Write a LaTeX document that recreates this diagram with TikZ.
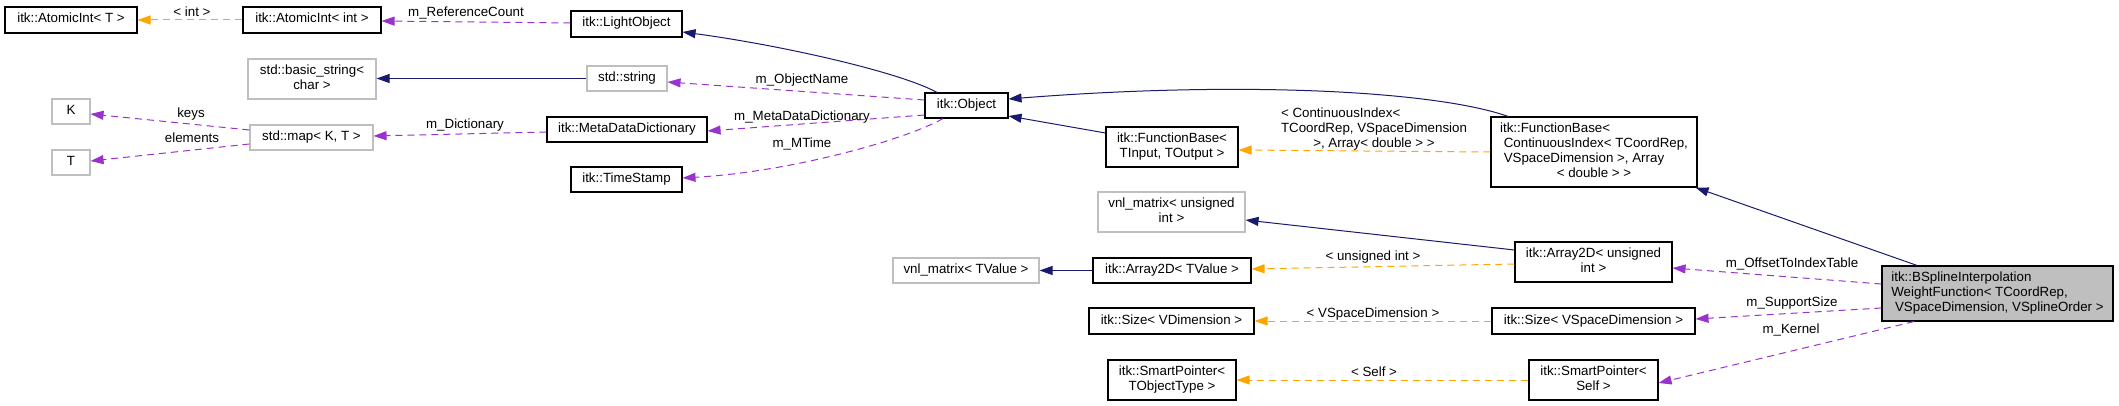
\documentclass[tikz,border=0pt]{standalone}
\usepackage{fontspec}
\setmainfont{Liberation Sans}
\usetikzlibrary{arrows.meta}
\definecolor{navy}{HTML}{191970}
\definecolor{orchid}{HTML}{9A32CD}
\definecolor{orng}{HTML}{FFA500}
\definecolor{greyline}{HTML}{BFBFBF}
\definecolor{greyfill}{HTML}{BFBFBF}
\newcommand{\twol}[2]{\begin{tabular}{@{}l@{}}#1\\\multicolumn{1}{@{}c@{}}{#2}\end{tabular}}
\begin{document}
\begin{tikzpicture}[x=1pt,y=-1pt,
  font=\fontsize{13.33}{15}\selectfont,
  box/.style={draw=black, line width=1.1pt, fill=white, inner sep=0pt, text=black},
  gbox/.style={box, draw=greyline},
  lbl/.style={anchor=base, inner sep=0pt, text=black},
  tip/.style={-{Triangle[length=13pt,width=9pt]}},
  inh/.style={tip, draw=navy, line width=1pt},
  tpl/.style={tip, draw=orng, line width=1pt, dash pattern=on 7pt off 5pt},
  mem/.style={tip, draw=orchid, line width=1pt, dash pattern=on 7pt off 5pt}]
\useasboundingbox (0,0) rectangle (2119,406);

% nodes
\node[box, minimum width=132pt, minimum height=26pt] (atT) at (71,20) {\strut itk::AtomicInt< T >};
\node[box, minimum width=138pt, minimum height=26pt] (atInt) at (312,20) {\strut itk::AtomicInt< int >};
\node[box, minimum width=111pt, minimum height=26pt] (light) at (626.5,24) {\strut itk::LightObject};
\node[gbox, minimum width=128pt, minimum height=40pt] (bstr) at (312,79) {\twol{std::basic\_string<}{char >}};
\node[gbox, minimum width=80pt, minimum height=25pt] (str) at (627,78.5) {\strut std::string};
\node[gbox, minimum width=38pt, minimum height=25pt] (K) at (71,111.5) {\strut K};
\node[gbox, minimum width=38pt, minimum height=25pt] (T) at (71,162.5) {\strut T};
\node[gbox, minimum width=123pt, minimum height=25pt] (map) at (311.5,137.5) {\strut std::map< K, T >};
\node[box, minimum width=160pt, minimum height=25pt] (mdd) at (627,129.5) {\strut itk::MetaDataDictionary};
\node[box, minimum width=111pt, minimum height=25pt] (ts) at (626.5,179.5) {\strut itk::TimeStamp};
\node[box, minimum width=83pt, minimum height=25pt] (obj) at (966.5,105.5) {\strut itk::Object};
\node[box, minimum width=132pt, minimum height=40pt] (fbIO) at (1172,147) {\twol{itk::FunctionBase<}{TInput, TOutput >}};
\node[box, minimum width=206pt, minimum height=70pt] (fbBig) at (1594,152)
  {\begin{tabular}{@{}l@{}}itk::FunctionBase<\\\ ContinuousIndex< TCoordRep,\\\ VSpaceDimension >, Array\\\multicolumn{1}{@{}c@{}}{< double > >}\end{tabular}};
\node[gbox, minimum width=147pt, minimum height=40pt] (vnlU) at (1171.5,212) {\twol{vnl\_matrix< unsigned}{int >}};
\node[gbox, minimum width=146pt, minimum height=25pt] (vnlT) at (966,270.5) {\strut vnl\_matrix< TValue >};
\node[box, minimum width=158pt, minimum height=25pt] (a2T) at (1172,270.5) {\strut itk::Array2D< TValue >};
\node[box, minimum width=157pt, minimum height=40pt] (a2U) at (1593.5,262) {\twol{itk::Array2D< unsigned}{int >}};
\node[box, minimum width=165pt, minimum height=26pt] (szV) at (1171.5,321) {\strut itk::Size< VDimension >};
\node[box, minimum width=203pt, minimum height=26pt] (szS) at (1593.5,321) {\strut itk::Size< VSpaceDimension >};
\node[box, minimum width=128pt, minimum height=40pt] (spT) at (1172,380) {\twol{itk::SmartPointer<}{TObjectType >}};
\node[box, minimum width=129pt, minimum height=40pt] (spS) at (1593.5,380) {\twol{itk::SmartPointer<}{Self >}};
\node[box, fill=greyfill, minimum width=231pt, minimum height=55pt] (bsp) at (1997.5,293.5)
  {\begin{tabular}{@{}l@{}}itk::BSplineInterpolation\\WeightFunction< TCoordRep,\\\multicolumn{1}{@{}c@{}}{\ VSpaceDimension, VSplineOrder >}\end{tabular}};

% edges
\draw[tpl] (atInt.west |- 0,20) -- (atT.east |- 0,20);
\node[lbl] (lint) at (192,16.5) {< int >};
\draw[mem] (light.west |- 0,23) -- (atInt.east |- 0,21);
\node[lbl] (lref) at (466,16.5) {m\_ReferenceCount};
\draw[inh] (obj.north -| 937,0) .. controls (900,72) and (780,45) .. (light.east |- 0,32);
\draw[inh] (str.west) -- (str.west -| bstr.east);
\draw[mem] (map.west |- 0,130) -- (K.east |- 0,114);
\node[lbl] (lkeys) at (191,117.5) {keys};
\draw[mem] (map.west |- 0,144) -- (T.east |- 0,161);
\node[lbl] (lelem) at (192,142.5) {elements};
\draw[mem] (mdd.west |- 0,132) -- (map.east |- 0,136);
\node[lbl] (ldict) at (465,128.5) {m\_Dictionary};
\draw[mem] (obj.west |- 0,100) -- (str.east |- 0,82);
\node[lbl] (lname) at (802,83.5) {m\_ObjectName};
\draw[mem] (obj.west |- 0,115) -- (mdd.east |- 0,131);
\node[lbl] (lmdd) at (802,120.5) {m\_MetaDataDictionary};
\draw[mem] (obj.south -| 943,0) .. controls (905,140) and (790,172) .. (ts.east |- 0,178);
\node[lbl] (lmt) at (802,147.5) {m\_MTime};
\draw[inh] (fbIO.west |- 0,133) -- (obj.east |- 0,116);
\draw[inh] (fbBig.north -| 1508,0) .. controls (1440,92) and (1250,80) .. (obj.east |- 0,99);
\draw[tpl] (fbBig.west |- 0,152) -- (fbIO.east |- 0,150);
\node[lbl] (lci) at (1374,117.5) {\begin{tabular}[t]{@{}l@{}}< ContinuousIndex<\\TCoordRep, VSpaceDimension\\\multicolumn{1}{@{}c@{}}{>, Array< double > >}\end{tabular}};
\draw[inh] (bsp.north -| 1917,0) -- ([xshift=-2pt]fbBig.south east);
\draw[inh] (a2U.west |- 0,250) -- (vnlU.east |- 0,220);
\draw[tpl] (a2U.west |- 0,264) -- (a2T.east |- 0,269);
\node[lbl] (luint) at (1373,260.5) {< unsigned int >};
\draw[inh] (a2T.west) -- (vnlT.east);
\draw[tpl] (szS.west) -- (szV.east);
\node[lbl] (lvsd) at (1373,317.5) {< VSpaceDimension >};
\draw[tpl] (spS.west) -- (spT.east);
\node[lbl] (lself) at (1374,376.5) {< Self >};
\draw[mem] (bsp.west |- 0,284) -- (a2U.east |- 0,268);
\node[lbl] (loff) at (1792,267.5) {m\_OffsetToIndexTable};
\draw[mem] (bsp.west |- 0,308) -- (szS.east |- 0,319);
\node[lbl] (lsup) at (1792,306.5) {m\_SupportSize};
\draw[mem] (bsp.south -| 1914,0) -- (spS.east |- 0,383);
\node[lbl] (lker) at (1791,333.5) {m\_Kernel};
\end{tikzpicture}
\end{document}
